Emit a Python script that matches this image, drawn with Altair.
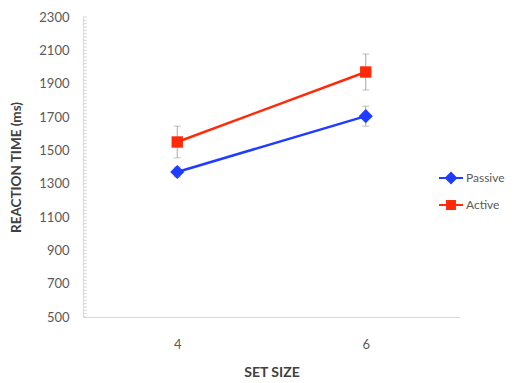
import altair as alt
import pandas as pd

set_size = ["4", "6"]
series = ["Passive", "Active"]
passive = [1370, 1705]
active = [1550, 1970]
passive_err = [30, 60]
active_err = [95, 108]
colors = ["#1f3cff", "#ff2a0a"]
y_ticks = [500, 700, 900, 1100, 1300, 1500, 1700, 1900, 2100, 2300]

rows = []
for i, s in enumerate(set_size):
    rows.append({"size": s, "series": "Passive", "rt": passive[i],
                 "lo": passive[i] - passive_err[i], "hi": passive[i] + passive_err[i]})
    rows.append({"size": s, "series": "Active", "rt": active[i],
                 "lo": active[i] - active_err[i], "hi": active[i] + active_err[i]})
df = pd.DataFrame(rows)
minor = pd.DataFrame({"v": list(range(500, 2301, 20))})

FONT = "Lato"
x_enc = alt.X("size:O", scale=alt.Scale(type="point", padding=0.5), sort=set_size,
              axis=alt.Axis(title="SET SIZE", labelAngle=0, ticks=False,
                            domainColor="#d9d9d9", labelColor="#595959",
                            labelFontSize=13, labelPadding=21,
                            titleFontSize=14, titleFontWeight="bold",
                            titleColor="#404040", titlePadding=14, titleFont=FONT, labelFont=FONT))
y_scale = alt.Scale(domain=[500, 2300], nice=False, zero=False)
y_axis = alt.Axis(title="REACTION TIME (ms)", values=y_ticks, format="d", ticks=False, grid=False,
                  domainColor="#d9d9d9", labelColor="#595959", labelFontSize=13,
                  labelPadding=14, titleFontSize=13.5, titleFontWeight="bold",
                  titleColor="#404040", titlePadding=15, titleFont=FONT, labelFont=FONT)
color_scale = alt.Scale(domain=series, range=colors)

leg_shape = ("datum.value === 'Passive' ? 'M-1,0H1M-0.42,0L0,-0.42L0.42,0L0,0.42Z' "
             ": 'M-1,0H1M-0.33,-0.33H0.33V0.33H-0.33Z'")
leg_color = "datum.value === 'Passive' ? '%s' : '%s'" % (colors[0], colors[1])
legend = alt.Legend(title=None, orient="none", legendX=355, legendY=148,
                    symbolSize=576, labelFontSize=12, labelColor="#595959",
                    labelFont=FONT, rowPadding=4, labelOffset=2,
                    symbolType={"expr": leg_shape},
                    symbolStrokeColor={"expr": leg_color},
                    symbolFillColor={"expr": leg_color},
                    symbolStrokeWidth=2, symbolOpacity=1)
color_enc = alt.Color("series:N", scale=color_scale, legend=legend)

base = alt.Chart(df)

lines = base.mark_line(strokeWidth=2.5).encode(
    x=x_enc, y=alt.Y("rt:Q", scale=y_scale, axis=y_axis),
    color=color_enc, detail="series:N")

minor_ticks = alt.Chart(minor).mark_rule(color="#d9d9d9", strokeWidth=1).encode(
    y=alt.Y("v:Q", scale=y_scale, axis=y_axis),
    x=alt.value(0), x2=alt.value(4))

err = base.mark_rule(color="#a6a6a6", strokeWidth=1).encode(
    x=x_enc, y=alt.Y("lo:Q", scale=y_scale, axis=y_axis), y2="hi:Q")
cap_lo = base.mark_tick(color="#a6a6a6", thickness=1, size=7).encode(
    x=x_enc, y=alt.Y("lo:Q", scale=y_scale, axis=y_axis))
cap_hi = base.mark_tick(color="#a6a6a6", thickness=1, size=7).encode(
    x=x_enc, y=alt.Y("hi:Q", scale=y_scale, axis=y_axis))

pts_passive = base.transform_filter(alt.datum.series == "Passive").mark_point(
    filled=True, opacity=1, shape="diamond", size=200).encode(
    x=x_enc, y=alt.Y("rt:Q", scale=y_scale, axis=y_axis), color=color_enc)
pts_active = base.transform_filter(alt.datum.series == "Active").mark_point(
    filled=True, opacity=1, shape="square", size=130).encode(
    x=x_enc, y=alt.Y("rt:Q", scale=y_scale, axis=y_axis), color=color_enc)

chart = alt.layer(lines, minor_ticks, err, cap_lo, cap_hi, pts_passive, pts_active).properties(
    width=377, height=300
).configure(background="white", padding={"left": 1, "top": 3, "right": 0, "bottom": 2}
).configure_view(stroke=None)

chart.save("out.html", embed_options={"renderer": "svg", "actions": False})
